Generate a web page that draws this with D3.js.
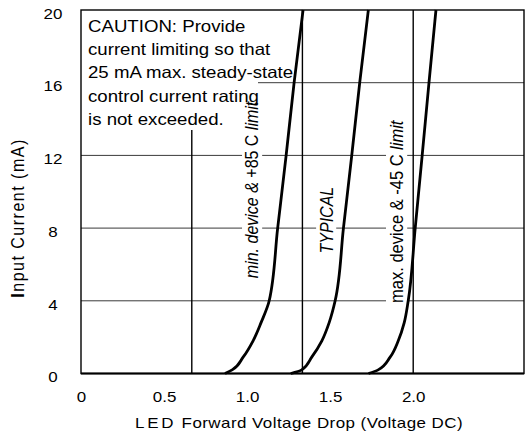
<!DOCTYPE html>
<html>
<head>
<meta charset="utf-8">
<script src="https://cdn.jsdelivr.net/npm/d3@7"></script>
<style>
  body { margin: 0; background: #fff; }
</style>
</head>
<body>
<div id="chart"></div>
<script>
//size of the page
const width = 527;
const height = 433;

//input current (mA) where the curves were read
const currents = [0, 0.2, 0.9, 1.8, 2.8, 4, 8, 12, 16, 20];
//forward voltage (V) of each curve at those currents
const minDevice = [0.867, 0.91, 0.976, 1.036, 1.084, 1.133, 1.184, 1.235, 1.283, 1.337];
const typical = [1.263, 1.329, 1.389, 1.45, 1.494, 1.53, 1.58, 1.63, 1.678, 1.73];
const maxDevice = [1.731, 1.789, 1.861, 1.91, 1.946, 1.97, 2.012, 2.054, 2.095, 2.137];

//tick labels and grid lines
const xTicks = [0, 0.5, 1.0, 1.5, 2.0];
const yTicks = [0, 4, 8, 12, 16, 20];
const xGrid = [0.667, 1.333, 2.0];
const yGrid = [4, 8, 12, 16];

//texts
const cautionLines = [
  "CAUTION: Provide",
  "current limiting so that",
  "25 mA max. steady-state",
  "control current rating",
  "is not exceeded."
];
//each label is split in parts, [text, italic?]
const curveLabels = [
  [["min. device & ", true], ["+85 C ", false], ["limit", true]],
  [["TYPICAL", true]],
  [["max. device & -45 C ", false], ["limit", true]]
];

//where the labels sit, in data units (volts, mA)
const labelAnchors = [[1.03, 10.1], [1.476, 8.44], [1.9, 8.9]];

const sx = 1.13; //the original lettering is a bit wider than Liberation Sans
const font = "'Liberation Sans', Arial, Helvetica, sans-serif";

const svg = d3
  .select("#chart")
  .append("svg")
  .attr("width", width)
  .attr("height", height)
  .style("font-family", font);

//scales
const xScale = d3.scaleLinear().domain([0, 2.667]).range([81, 524]);
const yScale = d3.scaleLinear().domain([0, 20]).range([373.5, 10]);

//horizontal grid lines (thin)
svg
  .append("g")
  .selectAll("line")
  .data(yGrid)
  .join("line")
  .attr("x1", xScale(0))
  .attr("x2", xScale(2.667))
  .attr("y1", (d) => yScale(d))
  .attr("y2", (d) => yScale(d))
  .attr("stroke", "#3a3a3a")
  .attr("stroke-width", 1);

//vertical grid lines
svg
  .append("g")
  .selectAll("line")
  .data(xGrid)
  .join("line")
  .attr("x1", (d) => xScale(d))
  .attr("x2", (d) => xScale(d))
  .attr("y1", yScale(0))
  .attr("y2", yScale(20))
  .attr("stroke", "#000")
  .attr("stroke-width", 1.4);

//caution note, white box hides the grid behind it
svg
  .append("rect")
  .attr("x", xScale(0))
  .attr("y", yScale(20))
  .attr("width", 177)
  .attr("height", 120)
  .attr("fill", "#fff");

//curve labels with white background
curveLabels.forEach((parts, i) => {
  const g = svg
    .append("g")
    .attr(
      "transform",
      `translate(${xScale(labelAnchors[i][0])}, ${yScale(labelAnchors[i][1])}) scale(${sx},1) rotate(-90)`
    );
  const bg = g.append("rect").attr("fill", "#fff");
  const t = g
    .append("text")
    .attr("text-anchor", "middle")
    .attr("dominant-baseline", "central")
    .attr("font-size", i === 2 ? "16.5px" : "16px");
  parts.forEach((p) => {
    t.append("tspan")
      .attr("font-style", p[1] ? "italic" : "normal")
      .text(p[0]);
  });
  const b = t.node().getBBox();
  bg.attr("x", b.x - 2)
    .attr("y", b.y)
    .attr("width", b.width + 4)
    .attr("height", b.height);
});

//caution text on top of the label boxes
svg
  .append("g")
  .selectAll("text")
  .data(cautionLines)
  .join("text")
  .attr("transform", (d, i) => `translate(88, ${32 + i * 23.2}) scale(${sx},1)`)
  .attr("font-size", "16.5px")
  .attr("fill", "#000")
  .text((d) => d);

//the three curves
const line = d3
  .line()
  .x((d) => xScale(d[0]))
  .y((d) => yScale(d[1]))
  .curve(d3.curveMonotoneY);

[minDevice, typical, maxDevice].forEach((volts) => {
  svg
    .append("path")
    .datum(volts.map((v, i) => [v, currents[i]]))
    .attr("d", line)
    .attr("fill", "none")
    .attr("stroke", "#000")
    .attr("stroke-width", 2.8)
    .attr("stroke-linejoin", "round");
});

//frame
svg
  .append("rect")
  .attr("x", xScale(0))
  .attr("y", yScale(20))
  .attr("width", xScale(2.667) - xScale(0))
  .attr("height", yScale(0) - yScale(20))
  .attr("fill", "none")
  .attr("stroke", "#000")
  .attr("stroke-width", 1.4);

svg
  .append("line")
  .attr("x1", xScale(0))
  .attr("x2", xScale(2.667))
  .attr("y1", yScale(0))
  .attr("y2", yScale(0))
  .attr("stroke", "#000")
  .attr("stroke-width", 2.2);

//x axis tick labels
const xAxis = svg
  .append("g")
  .attr("transform", `translate(0, ${yScale(0)})`)
  .call(
    d3.axisBottom(xScale)
      .tickValues(xTicks)
      .tickSize(0)
      .tickFormat((d) => (d === 0 ? "0" : d3.format(".1f")(d)))
  );
xAxis.select(".domain").remove();
xAxis
  .selectAll("text")
  .attr("y", 28.5)
  .attr("dy", 0)
  .attr("transform", `scale(${sx},1)`)
  .attr("font-family", font)
  .attr("font-size", "15px")
  .attr("fill", "#000");

//y axis tick labels (centered on a column)
const yAxis = svg
  .append("g")
  .attr("transform", "translate(53, 0)")
  .call(d3.axisLeft(yScale).tickValues(yTicks).tickSize(0).tickPadding(0));
yAxis.select(".domain").remove();
yAxis
  .selectAll("text")
  .attr("x", 0)
  .attr("dy", "0.55em")
  .attr("text-anchor", "middle")
  .attr("transform", `scale(${sx},1)`)
  .attr("font-family", font)
  .attr("font-size", "15px")
  .attr("fill", "#000");

//x axis title
const xTitle = svg
  .append("text")
  .attr("transform", `translate(299, 428) scale(${sx},1)`)
  .attr("text-anchor", "middle")
  .attr("font-size", "15px")
  .attr("fill", "#000");
xTitle.append("tspan").attr("letter-spacing", "2.5px").text("LED");
xTitle.append("tspan").attr("letter-spacing", "0.4px").text("  Forward Voltage Drop (Voltage DC)");

//y axis title
const yTitle = svg
  .append("text")
  .attr("transform", `translate(24, 218) scale(${sx},1) rotate(-90)`)
  .attr("text-anchor", "middle")
  .attr("font-size", "16px")
  .attr("letter-spacing", "1.5px")
  .attr("fill", "#000");
yTitle.append("tspan").attr("font-weight", "bold").text("I");
yTitle.append("tspan").text("nput Current (mA)");
</script>
</body>
</html>
